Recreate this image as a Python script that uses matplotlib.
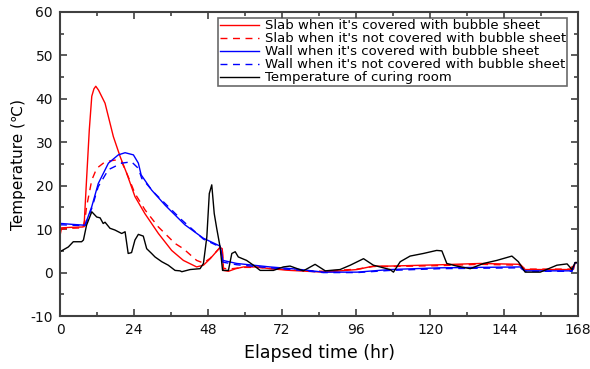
import matplotlib
matplotlib.use("Agg")
import matplotlib.pyplot as plt
from matplotlib.ticker import MultipleLocator

plt.rcParams['font.family'] = ['DejaVu Sans']
plt.rcParams['axes.unicode_minus'] = False

# Slab, covered (solid red)
slab_cov_t = [0, 0.5, 3, 7.5, 7.9, 8.6, 9.5, 10.3, 11.0, 11.6, 12.5, 14.6, 17.3, 19.5, 21.6, 24.3, 27.5,
              31.9, 36.2, 40.0, 44.3, 46.5, 48.7, 51.9, 52.6, 53.0, 54.6, 57, 59.5, 63.8, 68, 74.6,
              85.4, 96.3, 101.6, 107, 123.3, 136.2, 149.2, 150.8, 165.4, 166.5, 167, 168]
slab_cov_T = [8.5, 10.3, 10.4, 10.5, 12, 21.3, 32.9, 40.6, 42.3, 42.9, 42.0, 39, 31.3, 26.7, 22.9, 17.5, 13.6,
              9.0, 5.1, 2.8, 1.3, 1.7, 3.2, 5.8, 5.5, 0.5, 0.3, 0.9, 1.3, 1.3, 0.9, 0.5,
              0.1, 0.7, 1.5, 1.5, 1.8, 2.1, 1.9, 0.7, 0.7, 0.8, 2.3, 2.3]

# Slab, not covered (dashed red)
slab_unc_t = [0, 0.5, 3, 7.8, 8.6, 10.3, 11.9, 14.6, 17.8, 20.0, 22.1, 24.3, 27.6, 31.9, 37.3, 40.0,
              44.3, 46.5, 48.7, 51.9, 52.6, 53.0, 54.6, 59.5, 63.8, 74.6, 85.4, 96.3, 101.6, 107,
              123.3, 136.2, 149.2, 150.8, 165.4, 167, 168]
slab_unc_T = [9.8, 10.0, 10.2, 10.3, 15.1, 21.3, 24.0, 25.5, 25.9, 25.5, 22.1, 18.2, 14.4, 10.5, 6.7, 5.5,
              2.8, 2.2, 3.3, 5.8, 5.5, 1.0, 0.8, 1.2, 1.2, 0.6, 0.3, 0.8, 1.4, 1.4,
              1.6, 1.9, 1.7, 0.8, 0.8, 2.2, 2.2]

# Wall, covered (solid blue)
wall_cov_t = [0, 0.5, 4, 8.1, 10.3, 12.4, 15.7, 18.9, 21.1, 23.8, 25.4, 26.3, 29.7, 34.1, 40.5, 46.5,
              51.9, 52.8, 57.3, 68.1, 76.8, 85.4, 96.3, 107, 123.3, 149.2, 150.8, 166, 167, 168]
wall_cov_T = [11.3, 11.3, 11.1, 10.9, 15.2, 20.5, 25.2, 27.1, 27.6, 27.1, 25.2, 22.5, 19.0, 15.5, 11.0, 7.9,
              6.1, 2.8, 2.1, 1.3, 0.8, 0.1, 0.1, 0.7, 1.1, 1.3, 0.4, 0.4, 2.3, 2.3]

# Wall, not covered (dashed blue)
wall_unc_t = [0, 0.5, 4, 8.1, 10.3, 12.4, 15.7, 20.0, 23.2, 25.4, 26.5, 30.8, 39.5, 46.5,
              51.9, 52.8, 57.3, 68.1, 76.8, 85.4, 96.3, 107, 123.3, 149.2, 150.8, 166, 167, 168]
wall_unc_T = [10.9, 11.0, 10.9, 10.8, 14.8, 19.8, 23.7, 25.2, 25.5, 24.0, 21.7, 18.2, 12.1, 7.7,
              5.9, 2.4, 1.8, 1.1, 0.6, 0.0, 0.0, 0.5, 0.9, 1.1, 0.3, 0.3, 2.2, 2.2]

# Curing room (black)
room_t = [0, 2.7, 4.3, 7.0, 7.6, 8.6, 10.3, 11.9, 13.0, 14.0, 14.6, 16.2, 17.8, 20.0, 21.1, 22.1, 23.2,
          24.3, 25.4, 27.0, 28.1, 29.7, 30.8, 33.0, 35.1, 37.3, 38.9, 39.5, 42.2, 45.4, 46.5, 47.6, 48.4,
          49.2, 50.0, 50.8, 51.9, 52.7, 54.6, 55.7, 56.8, 57.8, 60.5, 62.7, 64.9, 69.2, 72.4, 74.6, 78.9,
          82.7, 86.0, 90.8, 94.1, 98.4, 101.6, 107.0, 108.1, 110.3, 113.5, 117.8, 122.1, 123.8, 125.4,
          128.6, 133.0, 137.3, 141.6, 146.5, 148.6, 150.8, 155.7, 161.1, 164.4, 166.0, 167.0, 168.0]
room_T = [4.8, 5.9, 7.1, 7.1, 7.5, 10.9, 14.0, 12.8, 12.6, 11.3, 11.6, 10.2, 9.8, 9.0, 9.4, 4.4, 4.6,
          7.5, 8.8, 8.4, 5.5, 4.4, 3.6, 2.5, 1.7, 0.5, 0.4, 0.2, 0.7, 0.9, 2.1, 8.2, 18.2,
          20.2, 13.6, 10.2, 5.9, 0.5, 0.5, 4.4, 4.8, 3.6, 2.8, 1.7, 0.5, 0.5, 1.3, 1.5, 0.4,
          1.9, 0.4, 0.7, 1.7, 3.2, 1.7, 0.7, 0.1, 2.5, 3.8, 4.4, 5.1, 5.0, 2.1,
          1.5, 0.9, 2.1, 2.8, 3.8, 2.5, 0.1, 0.1, 1.7, 2.0, 0.7, 2.3, 2.3]

labels = ["Slab when it's covered with bubble sheet",
          "Slab when it's not covered with bubble sheet",
          "Wall when it's covered with bubble sheet",
          "Wall when it's not covered with bubble sheet",
          "Temperature of curing room"]

x_ticks = [0, 24, 48, 72, 96, 120, 144, 168]
y_ticks = [-10, 0, 10, 20, 30, 40, 50, 60]

fig = plt.figure(figsize=(5.9, 3.69), dpi=100)
ax = fig.add_axes([0.1017, 0.1436, 0.8783, 0.8239])

ax.plot(slab_cov_t, slab_cov_T, color='#ff0000', lw=1.0, label=labels[0])
ax.plot(slab_unc_t, slab_unc_T, color='#ff0000', lw=1.0, ls=(0, (5, 4)), label=labels[1])
ax.plot(wall_cov_t, wall_cov_T, color='#0000ff', lw=1.0, label=labels[2])
ax.plot(wall_unc_t, wall_unc_T, color='#0000ff', lw=1.0, ls=(0, (5, 4)), label=labels[3])
ax.plot(room_t, room_T, color='black', lw=1.0, label=labels[4])

ax.set_xlim(0, 168)
ax.set_ylim(-10, 60)
ax.set_xticks(x_ticks)
ax.set_yticks(y_ticks)
ax.xaxis.set_minor_locator(MultipleLocator(12))
ax.yaxis.set_minor_locator(MultipleLocator(5))
ax.tick_params(which='both', direction='in', top=True, right=True, labelsize=10,
               width=1.2, color='#404040', labelcolor='#111111')
ax.tick_params(which='major', length=5, pad=5)
ax.tick_params(which='minor', length=3)
for s in ax.spines.values():
    s.set_linewidth(1.5)
    s.set_color('#404040')

ax.set_xlabel('Elapsed time (hr)', fontsize=12.5, labelpad=5)
ax.set_ylabel('Temperature (\u2103)', fontsize=11, labelpad=3)

leg = ax.legend(loc='upper right', bbox_to_anchor=(567 / 590, 1 - 18 / 369),
                bbox_transform=fig.transFigure, fontsize=9.5, frameon=True, fancybox=False,
                handlelength=3.0, handletextpad=0.4, borderpad=0.1, labelspacing=0.0,
                borderaxespad=0)
leg.get_frame().set_edgecolor('#444444')
leg.get_frame().set_linewidth(1.2)

fig.savefig('out.png', dpi=100)
